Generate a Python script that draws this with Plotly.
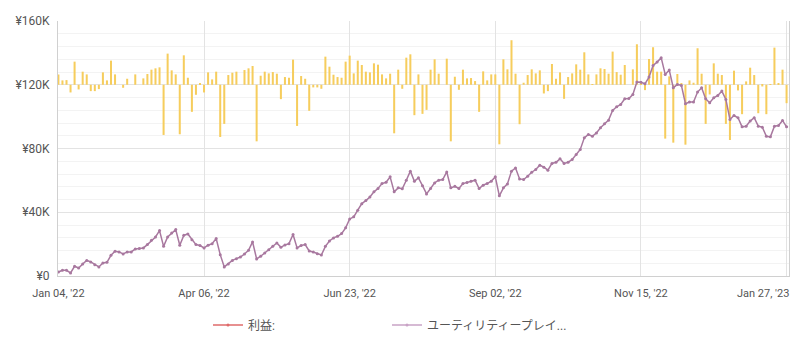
import plotly.graph_objects as go

# Cumulative value of "ユーティリティープレイ..." (yen), one point per period
utility_values = [
    2500, 3600, 3600, 1900, 6100, 5000, 7500, 9800, 8800, 7100, 5700, 8200, 8600, 13000, 15500, 15100,
    13800, 15100, 15100, 17000, 17200, 17600, 19700, 22400, 24500, 28500, 18600, 24500, 27000, 29100,
    19300, 25500, 26400, 22800, 19700, 19100, 17600,
    19300, 20300, 23500, 13400, 5700, 7500, 9800, 10900, 11900, 13800, 16100, 21400, 10700, 12400,
    14400, 16500, 18600, 20700, 18000, 19500, 20300, 26000, 17600, 19100, 19700, 15700, 15100, 14000,
    13200, 18600, 22000, 23900, 24900, 26600, 30200, 35800,
    37100, 41300, 45400, 47300, 49600, 52800, 54900, 58000, 58800, 62200, 52800, 55300, 54700, 60100,
    65800, 59500, 61600, 56700, 51500, 54900, 58400, 60100, 60500, 65300, 55300, 56300, 54900, 58000,
    58600, 59500, 60100, 54900, 57000, 58000, 59500, 62200,
    50300, 55300, 57800, 65800, 67800, 60900, 60500, 62600, 65100, 66800, 69500, 68300, 66400, 70600,
    71400, 73500, 70600, 71400, 73100, 76200, 79400, 86700, 88800, 87700, 89800, 93000, 95500, 97800,
    103900, 106200, 107600, 111200, 111400, 113900, 121700, 121500,
    120600, 124800, 132100, 134200, 137000, 126500, 129200, 118100, 120200, 119600, 108100, 109100,
    109100, 115400, 118100, 111200, 108700, 111800, 113300, 116000, 110800, 98200, 100700, 99300,
    93600, 94000, 97200, 99300, 94000, 93400, 87700, 87300, 94000, 94400, 97600, 93600,
]

# Profit per period (yen)
profit_values = [
    1950, 820, 880, -1450, 4350, -880, 2460, 1950, -1200, -1200, -820, 2330, 820, 4540, 1950, 0,
    -570, 1130, 0, 1950, 0, 1200, 2020, 2840, 3090, 3280, -9450, 5860, 2710, 1950, -9320, 5540,
    1320, -5100, -1890, 190, -1450,
    2330, 1010, 2460, -9830, -7370, 1830, 2270, 2460, 0, 2770, 3090, 3530, -10650, 1700, 2460,
    2140, 2390, 2080, -2710, 1450, 1320, 4730, -7750, 1640, 1130, -4910, -500, -500, -760, 5290,
    3400, 1890, 1450, 1320, 4350, 5480,
    2140, 4540, 3720, 2460, 2330, 4030, 3780, 1950, 1200, 2080, -9140, 2840, -760, 5100, 5730,
    -5730, 1950, -5480, -4730, 2840, 4790, 2080, 0, 4910, -10650, 1510, -950, 2840, 1200, 1260,
    690, -5100, 2520, 820, 1950, 1950,
    -11210, 4790, 2900, 8380, 2080, -7430, 380, 1830, 2900, 2140, 2710, -1640, -1200, 3910, 1130,
    2330, -2650, 1450, 2140, 3840, 2840, 6110, 1950, 60, 1950, 3090, 2960, 2080, 6240, 2390, 1890,
    3720, 0, 2900, 7620, 190,
    -1010, 4850, 7060, 2460, 2460, -10140, 1580, -10900, 2020, 320, -11280, 820, 380, 6870, 2080,
    -7370, -1830, 4030, 2080, 1830, -7370, -10400, 2650, -1070, -5540, 630, 3210, 1830, -5360,
    -320, -5540, 130, 6990, 190, 2840, -3470,
]

periods = list(range(len(utility_values)))

x_tick_positions = [0, 36, 72, 108, 144, 180]
x_tick_labels = ["Jan 04, '22", "Apr 06, '22", "Jun 23, '22", "Sep 02, '22", "Nov 15, '22", "Jan 27, '23"]

y_tick_values = [0, 40000, 80000, 120000, 160000]
y_tick_labels = ["¥0", "¥40K", "¥80K", "¥120K", "¥160K"]

series_names = ["利益:", "ユーティリティープレイ..."]

FONT = "Roboto, 'Noto Sans CJK JP', sans-serif"
BAR_COLOR = "#f6cd5d"
LINE_COLOR = "#a8789f"
PROFIT_LEGEND_COLOR = "#df6b6b"
TEXT_COLOR = "#555555"

fig = go.Figure()

fig.add_trace(go.Bar(
    x=periods, y=profit_values, yaxis="y",
    marker=dict(color=BAR_COLOR, line=dict(width=0)),
    showlegend=False, name=series_names[0],
))

fig.add_trace(go.Scatter(
    x=periods, y=utility_values, yaxis="y2",
    mode="lines+markers",
    line=dict(color=LINE_COLOR, width=1.5),
    marker=dict(color=LINE_COLOR, size=3),
    name=series_names[1], showlegend=False,
))

# legend entries
fig.add_trace(go.Scatter(
    x=[None], y=[None], yaxis="y2", mode="lines+markers",
    line=dict(color=PROFIT_LEGEND_COLOR, width=1.5),
    marker=dict(color=PROFIT_LEGEND_COLOR, size=3),
    name=series_names[0],
))
fig.add_trace(go.Scatter(
    x=[None], y=[None], yaxis="y2", mode="lines+markers",
    line=dict(color="#c9a3c6", width=1.5),
    marker=dict(color="#c9a3c6", size=3),
    name=series_names[1],
))

# All but the last tick label come from the axis; the last one is right-aligned
# so that it stays inside the canvas (as in the reference).
axis_tick_text = x_tick_labels[:-1] + [""]

fig.update_layout(
    width=795, height=351,
    margin=dict(l=58, r=6, t=21, b=75),
    paper_bgcolor="white", plot_bgcolor="white",
    font=dict(family=FONT, size=11, color=TEXT_COLOR),
    bargap=0.5,
    xaxis=dict(
        range=[-0.1, 180.6],
        tickmode="array", tickvals=x_tick_positions, ticktext=axis_tick_text,
        showgrid=True, gridcolor="#e3e3e3", gridwidth=1,
        showline=True, linecolor="#d0d0d0", linewidth=1, mirror=False,
        ticks="", ticklabelstandoff=7, zeroline=False,
        tickfont=dict(size=11, color=TEXT_COLOR),
    ),
    yaxis=dict(
        range=[-36000, 12000],
        showgrid=False, showticklabels=False, zeroline=False,
        showline=False, ticks="",
    ),
    yaxis2=dict(
        overlaying="y", side="left",
        range=[0, 160000],
        tickmode="array", tickvals=y_tick_values, ticktext=y_tick_labels,
        showgrid=True, gridcolor="#e3e3e3", gridwidth=1,
        minor=dict(dtick=8000, tick0=0, showgrid=True, gridcolor="#f3f3f3", gridwidth=1, ticks=""),
        showline=True, linecolor="#d0d0d0", linewidth=1, mirror=True,
        ticks="", ticklabelstandoff=5, zeroline=False,
        tickfont=dict(size=12, color=TEXT_COLOR),
    ),
    legend=dict(
        orientation="h", x=(208 - 58) / 731, xanchor="left", y=-0.135, yanchor="top",
        entrywidth=134, itemwidth=30,
        font=dict(size=12, color=TEXT_COLOR, family=FONT),
        bgcolor="rgba(0,0,0,0)",
    ),
    annotations=[dict(
        x=x_tick_positions[-1], xref="x", y=0, yref="paper",
        text=x_tick_labels[-1], showarrow=False,
        xanchor="right", yanchor="top", xshift=4, yshift=-9,
        font=dict(size=11, color=TEXT_COLOR, family=FONT),
    )],
)

fig.write_html("out.html")
